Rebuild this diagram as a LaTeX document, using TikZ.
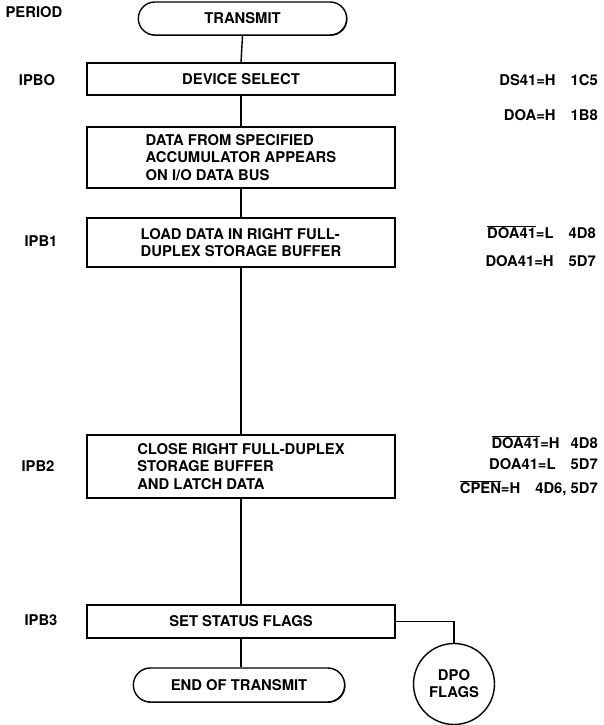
\documentclass[tikz,border=0pt]{standalone}
\usepackage{fontspec}
\setmainfont{TeX Gyre Heros}
\usetikzlibrary{shapes.misc,shadows}
\begin{document}
\begin{tikzpicture}[x=1pt,y=-1pt,
  every node/.style={font=\fontsize{14.8}{17.5}\selectfont\bfseries},
  lbl/.style={inner sep=0pt},
  rlbl/.style={inner sep=0pt,anchor=east},
  stepbox/.style={draw,line width=1.4pt,fill=white,minimum width=308pt,inner ysep=0pt,
     drop shadow={shadow xshift=1.3pt,shadow yshift=-1.3pt,fill=black,opacity=1}},
  txtbox/.style={stepbox,align=left},
  term/.style={draw,line width=1.4pt,fill=white,rounded rectangle,inner ysep=0pt,
     drop shadow={shadow xshift=0.8pt,shadow yshift=-0.8pt,fill=black,opacity=1}},
  conn/.style={line width=1.4pt}]
\useasboundingbox (0,0) rectangle (603,725);

\node[term,minimum width=215pt,minimum height=33pt] (tx) at (242.5,18.5) {TRANSMIT};
\node[stepbox,minimum height=32pt] (dev) at (241,79) {DEVICE SELECT};
\node[txtbox,minimum height=61pt] (data) at (241,157.5)
  {DATA FROM SPECIFIED\\ACCUMULATOR APPEARS\\ON I/O DATA BUS};
\node[txtbox,minimum height=49pt] (load) at (241,242.5)
  {LOAD DATA IN RIGHT FULL-\\DUPLEX STORAGE BUFFER};
\node[txtbox,minimum height=63pt] (close) at (241,466.5)
  {CLOSE RIGHT FULL-DUPLEX\\STORAGE BUFFER\\AND LATCH DATA};
\node[stepbox,minimum height=33pt] (set) at (241,621.5) {SET STATUS FLAGS};
\node[term,minimum width=218pt,minimum height=34pt] (end) at (239,685) {END OF TRANSMIT};
\node[draw,circle,line width=1.4pt,minimum size=81pt,inner sep=0pt,align=center,
  font=\fontsize{14.8}{17}\selectfont\bfseries] (dpo) at (454,684) {DPO\\FLAGS};

\draw[conn] (tx.south) -- (dev.north);
\draw[conn] (dev.south) -- (data.north);
\draw[conn] (data.south) -- (load.north);
\draw[conn] (load.south) -- (close.north);
\draw[conn] (close.south) -- (set.north);
\draw[conn] (set.south) -- (set.south |- end.north);
\draw[conn] (set.east) -| (dpo.north);

% period labels
\node[lbl] (period) at (34,12) {PERIOD};
\node[lbl] (p0) at (37,80) {IPBO};
\node[lbl] (p1) at (41,241) {IPB1};
\node[lbl] (p2) at (38,466) {IPB2};
\node[lbl] (p3) at (41,620) {IPB3};

% signal labels
\node[rlbl] (s1) at (598,80) {DS41=H\hspace{15pt}1C5};
\node[rlbl] (s2) at (598,115) {DOA=H\hspace{15pt}1B8};
\node[rlbl] (s3) at (596,232) {$\overline{\mbox{DOA41}}$=L\hspace{15pt}4D8};
\node[rlbl] (s4) at (596,261) {DOA41=H\hspace{15pt}5D7};
\node[rlbl] (s5) at (598,442) {$\overline{\mbox{DOA41}}$=H\hspace{11pt}4D8};
\node[rlbl] (s6) at (598,464) {DOA41=L\hspace{15pt}5D7};
\node[rlbl] (s7) at (598,488) {$\overline{\mbox{CPEN}}$=H\hspace{15pt}4D6, 5D7};
\end{tikzpicture}
\end{document}
